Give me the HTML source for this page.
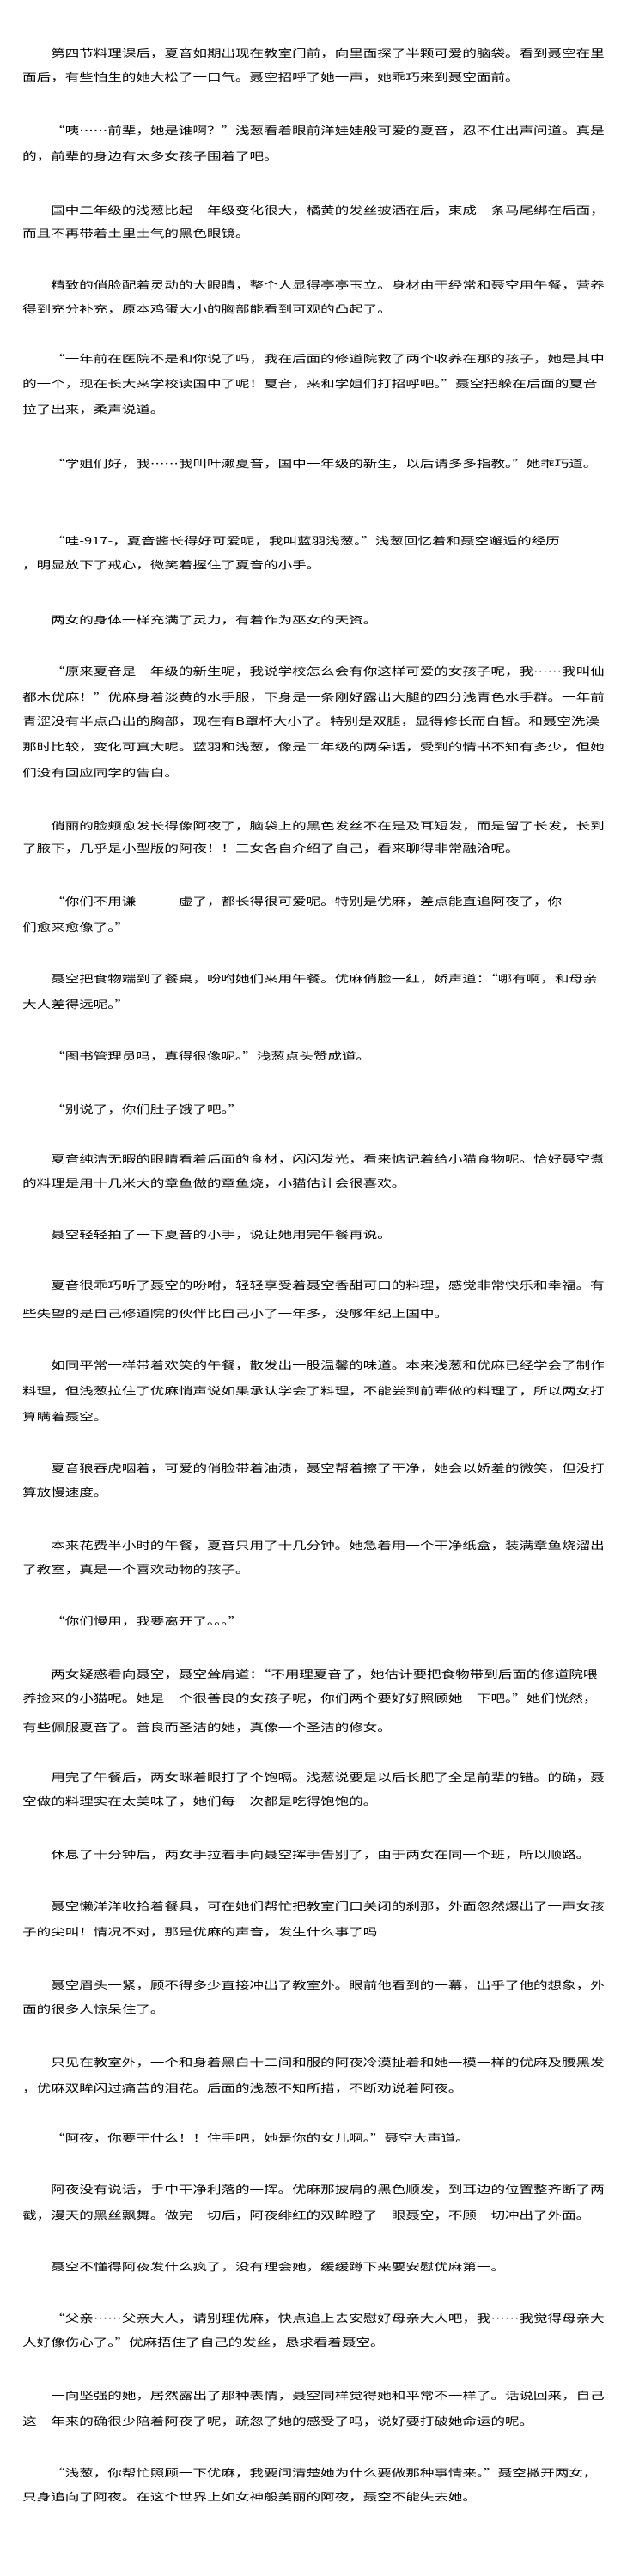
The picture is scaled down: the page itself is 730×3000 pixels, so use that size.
<!DOCTYPE html>
<html><head><meta charset="utf-8"><style>
html,body{margin:0;padding:0;background:#fff;}
body{width:730px;height:3000px;overflow:hidden;position:relative;}
#w{position:absolute;left:0;top:0;width:530px;height:3000px;transform:scaleX(1.377);transform-origin:0 0;font-family:"Noto Sans CJK SC","WenQuanYi Zen Hei","Liberation Sans",sans-serif;font-size:12px;color:#000;}
.l{position:absolute;left:19px;white-space:nowrap;line-height:30px;height:30px;}
.i{left:43px;}
</style></head><body><div id="w">
<div class="l i" style="top:47px">第四节料理课后，夏音如期出现在教室门前，向里面探了半颗可爱的脑袋。看到聂空在里</div>
<div class="l" style="top:75px">面后，有些怕生的她大松了一口气。聂空招呼了她一声，她乖巧来到聂空面前。</div>
<div class="l i" style="top:137px">“咦……前辈，她是谁啊？”浅葱看着眼前洋娃娃般可爱的夏音，忍不住出声问道。真是</div>
<div class="l" style="top:167px">的，前辈的身边有太多女孩子围着了吧。</div>
<div class="l i" style="top:230px">国中二年级的浅葱比起一年级变化很大，橘黄的发丝披洒在后，束成一条马尾绑在后面，</div>
<div class="l" style="top:257px">而且不再带着土里土气的黑色眼镜。</div>
<div class="l i" style="top:317px">精致的俏脸配着灵动的大眼睛，整个人显得亭亭玉立。身材由于经常和聂空用午餐，营养</div>
<div class="l" style="top:345px">得到充分补充，原本鸡蛋大小的胸部能看到可观的凸起了。</div>
<div class="l i" style="top:403px">“一年前在医院不是和你说了吗，我在后面的修道院救了两个收养在那的孩子，她是其中</div>
<div class="l" style="top:432px">的一个，现在长大来学校读国中了呢！夏音，来和学姐们打招呼吧。”聂空把躲在后面的夏音</div>
<div class="l" style="top:462px">拉了出来，柔声说道。</div>
<div class="l i" style="top:525px">“学姐们好，我……我叫叶濑夏音，国中一年级的新生，以后请多多指教。”她乖巧道。</div>
<div class="l i" style="top:615px">“哇-917-，夏音酱长得好可爱呢，我叫蓝羽浅葱。”浅葱回忆着和聂空邂逅的经历</div>
<div class="l" style="top:643px">，明显放下了戒心，微笑着握住了夏音的小手。</div>
<div class="l i" style="top:707px">两女的身体一样充满了灵力，有着作为巫女的天资。</div>
<div class="l i" style="top:767px">“原来夏音是一年级的新生呢，我说学校怎么会有你这样可爱的女孩子呢，我……我叫仙</div>
<div class="l" style="top:797px">都木优麻！”优麻身着淡黄的水手服，下身是一条刚好露出大腿的四分浅青色水手群。一年前</div>
<div class="l" style="top:825px">青涩没有半点凸出的胸部，现在有B罩杯大小了。特别是双腿，显得修长而白皙。和聂空洗澡</div>
<div class="l" style="top:855px">那时比较，变化可真大呢。蓝羽和浅葱，像是二年级的两朵话，受到的情书不知有多少，但她</div>
<div class="l" style="top:885px">们没有回应同学的告白。</div>
<div class="l i" style="top:947px">俏丽的脸颊愈发长得像阿夜了，脑袋上的黑色发丝不在是及耳短发，而是留了长发，长到</div>
<div class="l" style="top:973px">了腋下，几乎是小型版的阿夜！！三女各自介绍了自己，看来聊得非常融洽呢。</div>
<div class="l i" style="top:1035px">“你们不用谦　　　虚了，都长得很可爱呢。特别是优麻，差点能直追阿夜了，你</div>
<div class="l" style="top:1065px">们愈来愈像了。”</div>
<div class="l i" style="top:1125px">聂空把食物端到了餐桌，吩咐她们来用午餐。优麻俏脸一红，娇声道：“哪有啊，和母亲</div>
<div class="l" style="top:1155px">大人差得远呢。”</div>
<div class="l i" style="top:1215px">“图书管理员吗，真得很像呢。”浅葱点头赞成道。</div>
<div class="l i" style="top:1277px">“别说了，你们肚子饿了吧。”</div>
<div class="l i" style="top:1335px">夏音纯洁无暇的眼睛看着后面的食材，闪闪发光，看来惦记着给小猫食物呢。恰好聂空煮</div>
<div class="l" style="top:1363px">的料理是用十几米大的章鱼做的章鱼烧，小猫估计会很喜欢。</div>
<div class="l i" style="top:1423px">聂空轻轻拍了一下夏音的小手，说让她用完午餐再说。</div>
<div class="l i" style="top:1482px">夏音很乖巧听了聂空的吩咐，轻轻享受着聂空香甜可口的料理，感觉非常快乐和幸福。有</div>
<div class="l" style="top:1515px">些失望的是自己修道院的伙伴比自己小了一年多，没够年纪上国中。</div>
<div class="l i" style="top:1575px">如同平常一样带着欢笑的午餐，散发出一股温馨的味道。本来浅葱和优麻已经学会了制作</div>
<div class="l" style="top:1605px">料理，但浅葱拉住了优麻悄声说如果承认学会了料理，不能尝到前辈做的料理了，所以两女打</div>
<div class="l" style="top:1635px">算瞒着聂空。</div>
<div class="l i" style="top:1695px">夏音狼吞虎咽着，可爱的俏脸带着油渍，聂空帮着擦了干净，她会以娇羞的微笑，但没打</div>
<div class="l" style="top:1723px">算放慢速度。</div>
<div class="l i" style="top:1785px">本来花费半小时的午餐，夏音只用了十几分钟。她急着用一个干净纸盒，装满章鱼烧溜出</div>
<div class="l" style="top:1813px">了教室，真是一个喜欢动物的孩子。</div>
<div class="l i" style="top:1873px">“你们慢用，我要离开了。。。”</div>
<div class="l i" style="top:1935px">两女疑惑看向聂空，聂空耸肩道：“不用理夏音了，她估计要把食物带到后面的修道院喂</div>
<div class="l" style="top:1963px">养捡来的小猫呢。她是一个很善良的女孩子呢，你们两个要好好照顾她一下吧。”她们恍然，</div>
<div class="l" style="top:1997px">有些佩服夏音了。善良而圣洁的她，真像一个圣洁的修女。</div>
<div class="l i" style="top:2055px">用完了午餐后，两女眯着眼打了个饱嗝。浅葱说要是以后长肥了全是前辈的错。的确，聂</div>
<div class="l" style="top:2083px">空做的料理实在太美味了，她们每一次都是吃得饱饱的。</div>
<div class="l i" style="top:2145px">休息了十分钟后，两女手拉着手向聂空挥手告别了，由于两女在同一个班，所以顺路。</div>
<div class="l i" style="top:2205px">聂空懒洋洋收拾着餐具，可在她们帮忙把教室门口关闭的刹那，外面忽然爆出了一声女孩</div>
<div class="l" style="top:2235px">子的尖叫！情况不对，那是优麻的声音，发生什么事了吗</div>
<div class="l i" style="top:2297px">聂空眉头一紧，顾不得多少直接冲出了教室外。眼前他看到的一幕，出乎了他的想象，外</div>
<div class="l" style="top:2325px">面的很多人惊呆住了。</div>
<div class="l i" style="top:2387px">只见在教室外，一个和身着黑白十二间和服的阿夜冷漠扯着和她一模一样的优麻及腰黑发</div>
<div class="l" style="top:2417px">，优麻双眸闪过痛苦的泪花。后面的浅葱不知所措，不断劝说着阿夜。</div>
<div class="l i" style="top:2475px">“阿夜，你要干什么！！住手吧，她是你的女儿啊。”聂空大声道。</div>
<div class="l i" style="top:2535px">阿夜没有说话，手中干净利落的一挥。优麻那披肩的黑色顺发，到耳边的位置整齐断了两</div>
<div class="l" style="top:2565px">截，漫天的黑丝飘舞。做完一切后，阿夜绯红的双眸瞪了一眼聂空，不顾一切冲出了外面。</div>
<div class="l i" style="top:2625px">聂空不懂得阿夜发什么疯了，没有理会她，缓缓蹲下来要安慰优麻第一。</div>
<div class="l i" style="top:2685px">“父亲……父亲大人，请别理优麻，快点追上去安慰好母亲大人吧，我……我觉得母亲大</div>
<div class="l" style="top:2713px">人好像伤心了。”优麻捂住了自己的发丝，恳求看着聂空。</div>
<div class="l i" style="top:2775px">一向坚强的她，居然露出了那种表情，聂空同样觉得她和平常不一样了。话说回来，自己</div>
<div class="l" style="top:2805px">这一年来的确很少陪着阿夜了呢，疏忽了她的感受了吗，说好要打破她命运的呢。</div>
<div class="l i" style="top:2865px">“浅葱，你帮忙照顾一下优麻，我要问清楚她为什么要做那种事情来。”聂空撇开两女，</div>
<div class="l" style="top:2893px">只身追向了阿夜。在这个世界上如女神般美丽的阿夜，聂空不能失去她。</div>
</div></body></html>
